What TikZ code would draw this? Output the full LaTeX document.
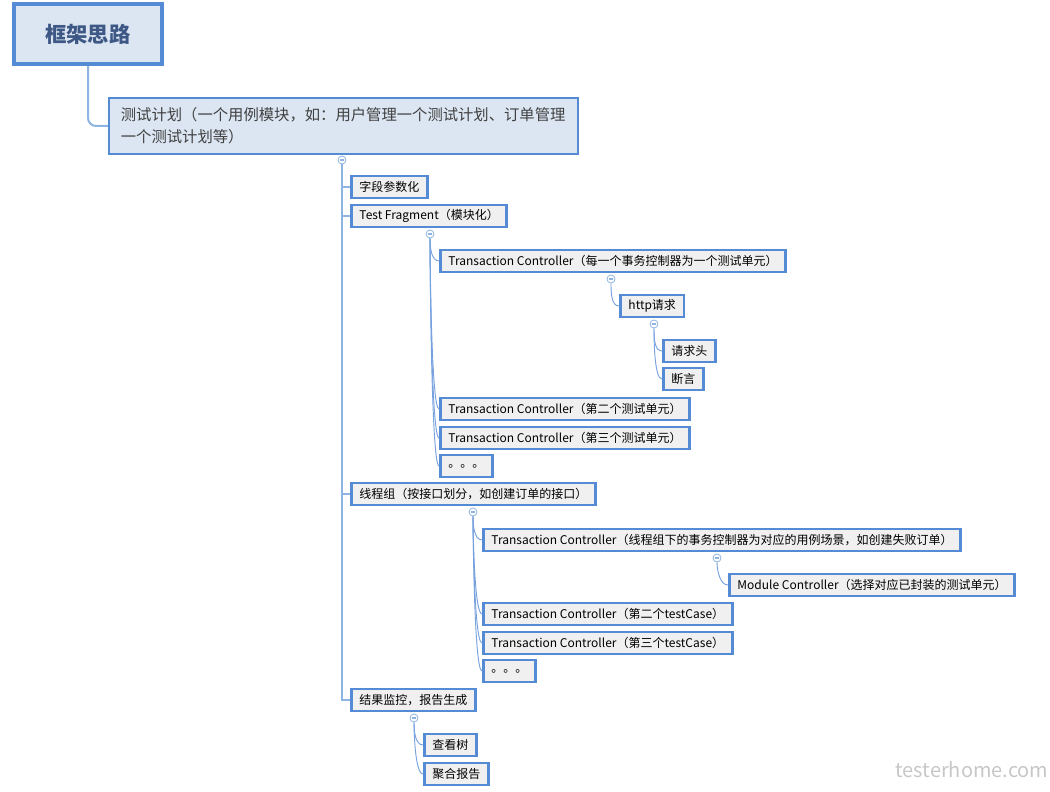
\documentclass[tikz,border=0pt]{standalone}
\usepackage{fontspec}
\setmainfont{Noto Sans CJK SC}
\definecolor{edge}{RGB}{85,139,212}
\definecolor{stem}{RGB}{141,180,226}
\definecolor{pale}{RGB}{220,230,242}
\definecolor{card}{RGB}{240,240,240}
\definecolor{inkblue}{RGB}{62,88,134}

\begin{document}
\begin{tikzpicture}[x = 0.75pt, y = -0.75pt,
		root/.style = {draw = edge, line width = 3pt, fill = pale, minimum width = 111pt, minimum height = 45pt, text = inkblue, font = \fontsize{16}{18}\selectfont\bfseries},
		plan/.style = {draw = edge, line width = 1.5pt, fill = pale, minimum width = 352pt, minimum height = 42pt, inner xsep = 9pt, text width = 334pt, align = left, text = black!75, font = \fontsize{11.5}{16.5}\selectfont},
		leaf/.style = {draw = edge, line width = 2.2pt, fill = card, anchor = west, minimum height = 16.5pt, inner xsep = 6pt, inner ysep = 2pt, font = \fontsize{9}{11}\selectfont},
		fold/.style = {circle, draw = stem, fill = white, line width = 0.6pt, inner sep = 0pt, minimum size = 6pt,
			path picture = {\draw[stem, line width = 0.8pt] ([xshift = -1.6pt]path picture bounding box.center) -- ([xshift = 1.6pt]path picture bounding box.center);}},
		trunk/.style = {draw = stem, line width = 1.5pt},
		twig/.style = {draw = edge!80, line width = 0.7pt}]
		\useasboundingbox (0, 0) rectangle (1050, 792);
		\node[root] (root) at (88, 34) {框架思路};
		\node[plan] (plan) at (343.5, 126) {测试计划（一个用例模块，如：用户管理一个测试计划、订单管理\\一个测试计划等）};
		\draw[trunk, rounded corners = 6pt] (root.south) |- (plan.west);
		% second level
		\node[leaf] (param) at (350, 187) {字段参数化};
		\node[leaf] (frag) at (350, 216) {Test Fragment（模块化）};
		\node[leaf] (thread) at (350, 494) {线程组（按接口划分，如创建订单的接口）};
		\node[leaf] (res) at (350, 700) {结果监控，报告生成};
		% test fragment
		\node[leaf] (tc1) at (439, 261) {Transaction Controller（每一个事务控制器为一个测试单元）};
		\node[leaf] (http) at (619, 306) {http请求};
		\node[leaf] (head) at (662, 351) {请求头};
		\node[leaf] (assert) at (662, 379) {断言};
		\node[leaf] (tc2) at (439, 409) {Transaction Controller（第二个测试单元）};
		\node[leaf] (tc3) at (439, 438) {Transaction Controller（第三个测试单元）};
		\node[leaf] (dots1) at (439, 466) {。。。};
		% thread group
		\node[leaf] (tcx) at (482, 540) {Transaction Controller（线程组下的事务控制器为对应的用例场景，如创建失败订单）};
		\node[leaf] (module) at (728, 585) {Module Controller（选择对应已封装的测试单元）};
		\node[leaf] (tcy) at (482, 614) {Transaction Controller（第二个testCase）};
		\node[leaf] (tcz) at (482, 643) {Transaction Controller（第三个testCase）};
		\node[leaf] (dots2) at (482, 671) {。。。};
		% results
		\node[leaf] (tree) at (423, 745) {查看树};
		\node[leaf] (agg) at (423, 774) {聚合报告};
		% fold marks
		\node[fold] (fplan) at (342, 160) {};
		\node[fold] (ffrag) at (430, 234) {};
		\node[fold] (ftc) at (611, 279) {};
		\node[fold] (fhttp) at (654, 324) {};
		\node[fold] (fthread) at (473, 512) {};
		\node[fold] (ftcx) at (717, 558) {};
		\node[fold] (fres) at (414, 718) {};
		\foreach \n in {param, frag, thread, res}
			\draw[trunk] (fplan.south) |- (\n.west);
		\foreach \f/\n in {ffrag/tc1, ffrag/tc2, ffrag/tc3, ffrag/dots1, ftc/http, fhttp/head, fhttp/assert, fthread/tcx, fthread/tcy, fthread/tcz, fthread/dots2, ftcx/module, fres/tree, fres/agg}
			\draw[twig] (\f.south) .. controls +(0, 8) and +(-8, 0) .. (\n.west);
		\node[text = black!22, font = \fontsize{15}{15}\selectfont] (mark) at (972, 770) {testerhome.com};
	\end{tikzpicture}
\end{document}
